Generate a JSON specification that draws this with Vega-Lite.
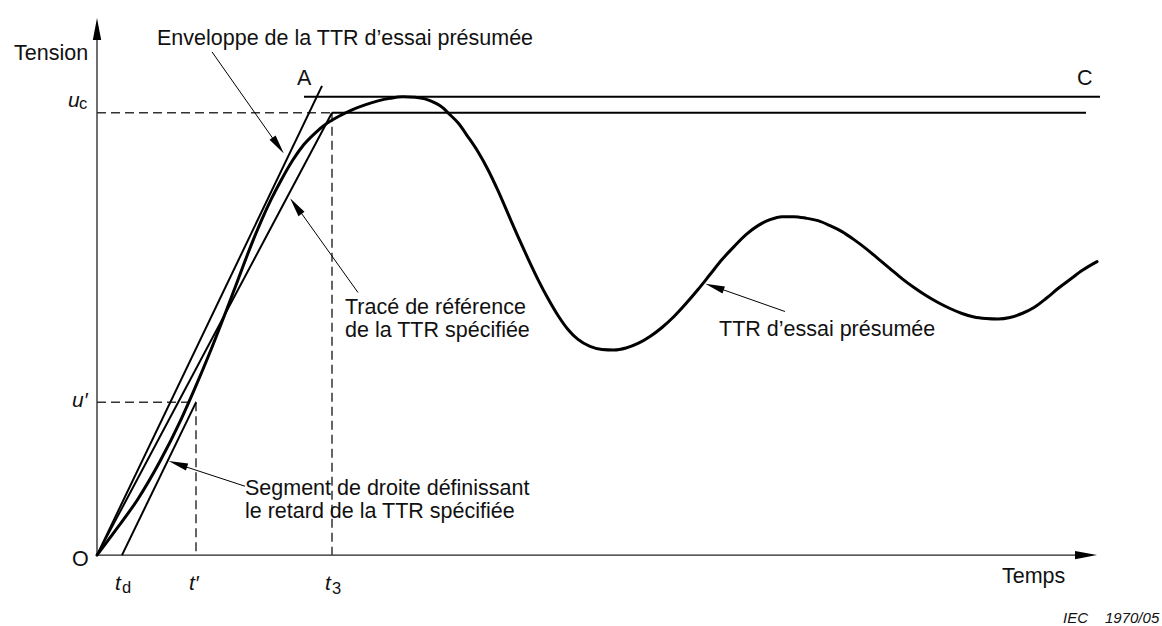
{
  "$schema": "https://vega.github.io/schema/vega-lite/v6.json",
  "width": 1162,
  "height": 626,
  "autosize": {"type": "fit", "contains": "padding"},
  "padding": 0,
  "background": "white",
  "config": {"view": {"stroke": null}, "font": "Liberation Sans"},
  "layer": [
    {
      "data": {"values": [
        {"x": 0, "y": 0, "x2": 0, "y2": 52.6},
        {"x": 0, "y": 0, "x2": 98.8, "y2": 0}
      ]},
      "mark": {"type": "rule", "stroke": "#222", "strokeWidth": 1.3},
      "encoding": {
        "x": {"field": "x", "type": "quantitative", "scale": {"domain": [-9.7, 106.5], "nice": false, "zero": false}, "axis": null},
        "y": {"field": "y", "type": "quantitative", "scale": {"domain": [-7.0, 55.6], "nice": false, "zero": false}, "axis": null},
        "x2": {"field": "x2"},
        "y2": {"field": "y2"}
      }
    },
    {
      "data": {"values": [
        {"x": 0, "y": 44.3, "x2": 23.5, "y2": 44.3},
        {"x": 23.5, "y": 44.3, "x2": 23.5, "y2": 0},
        {"x": 0, "y": 15.3, "x2": 9.9, "y2": 15.3},
        {"x": 9.9, "y": 15.3, "x2": 9.9, "y2": 0}
      ]},
      "mark": {"type": "rule", "stroke": "#333", "strokeWidth": 1.5, "strokeDash": [9, 5]},
      "encoding": {
        "x": {"field": "x", "type": "quantitative", "axis": null},
        "y": {"field": "y", "type": "quantitative", "axis": null},
        "x2": {"field": "x2"},
        "y2": {"field": "y2"}
      }
    },
    {
      "data": {"values": [
        {"name": "enveloppe", "x": 0, "y": 0, "x2": 22.5, "y2": 47.0},
        {"name": "reference", "x": 0, "y": 0, "x2": 23.5, "y2": 44.3},
        {"name": "retard", "x": 2.5, "y": 0, "x2": 9.9, "y2": 15.3},
        {"name": "enveloppe plateau", "x": 20.7, "y": 45.9, "x2": 100.3, "y2": 45.9},
        {"name": "reference plateau", "x": 23.5, "y": 44.3, "x2": 98.9, "y2": 44.3}
      ]},
      "mark": {"type": "rule", "stroke": "#000", "strokeWidth": 2},
      "encoding": {
        "x": {"field": "x", "type": "quantitative", "axis": null},
        "y": {"field": "y", "type": "quantitative", "axis": null},
        "x2": {"field": "x2"},
        "y2": {"field": "y2"}
      }
    },
    {
      "data": {"values": [
        {"x": 11.5, "y": 50.4, "x2": 18.1, "y2": 41.0},
        {"x": 26.1, "y": 26.3, "x2": 19.9, "y2": 35.0},
        {"x": 14.8, "y": 6.9, "x2": 8.1, "y2": 9.1},
        {"x": 68.8, "y": 24.4, "x2": 61.7, "y2": 26.9}
      ]},
      "mark": {"type": "rule", "stroke": "#000", "strokeWidth": 1},
      "encoding": {
        "x": {"field": "x", "type": "quantitative", "axis": null},
        "y": {"field": "y", "type": "quantitative", "axis": null},
        "x2": {"field": "x2"},
        "y2": {"field": "y2"}
      }
    },
    {
      "data": {"values": [
        {"i": 0, "x": 0, "y": 0},
        {"i": 1, "x": 1.94, "y": 2.6},
        {"i": 2, "x": 4.08, "y": 5.6},
        {"i": 3, "x": 6.3, "y": 9.4},
        {"i": 4, "x": 8.41, "y": 13.6},
        {"i": 5, "x": 9.74, "y": 16.6},
        {"i": 6, "x": 11.41, "y": 20.6},
        {"i": 7, "x": 12.78, "y": 24.1},
        {"i": 8, "x": 14.11, "y": 27.6},
        {"i": 9, "x": 15.24, "y": 30.6},
        {"i": 10, "x": 16.48, "y": 33.6},
        {"i": 11, "x": 17.4, "y": 35.6},
        {"i": 12, "x": 18.44, "y": 37.6},
        {"i": 13, "x": 19.6, "y": 39.6},
        {"i": 14, "x": 20.67, "y": 41.1},
        {"i": 15, "x": 21.84, "y": 42.3},
        {"i": 16, "x": 22.8, "y": 43.1},
        {"i": 17, "x": 24.1, "y": 43.9},
        {"i": 18, "x": 25.5, "y": 44.6},
        {"i": 19, "x": 26.8, "y": 45.1},
        {"i": 20, "x": 28.1, "y": 45.5},
        {"i": 21, "x": 29.3, "y": 45.75},
        {"i": 22, "x": 30.6, "y": 45.9},
        {"i": 23, "x": 31.8, "y": 45.85},
        {"i": 24, "x": 32.8, "y": 45.7},
        {"i": 25, "x": 33.8, "y": 45.3},
        {"i": 26, "x": 34.6, "y": 44.8},
        {"i": 27, "x": 35.1, "y": 44.3},
        {"i": 28, "x": 36.1, "y": 43.3},
        {"i": 29, "x": 37.1, "y": 41.9},
        {"i": 30, "x": 38.1, "y": 40.4},
        {"i": 31, "x": 39.1, "y": 38.6},
        {"i": 32, "x": 40.1, "y": 36.5},
        {"i": 33, "x": 41.1, "y": 34.2},
        {"i": 34, "x": 42.1, "y": 31.9},
        {"i": 35, "x": 43.1, "y": 29.7},
        {"i": 36, "x": 44.1, "y": 27.6},
        {"i": 37, "x": 45.1, "y": 25.7},
        {"i": 38, "x": 46.1, "y": 24.0},
        {"i": 39, "x": 47.1, "y": 22.6},
        {"i": 40, "x": 48.1, "y": 21.6},
        {"i": 41, "x": 49.3, "y": 20.9},
        {"i": 42, "x": 50.5, "y": 20.6},
        {"i": 43, "x": 51.7, "y": 20.55},
        {"i": 44, "x": 52.9, "y": 20.75},
        {"i": 45, "x": 54.1, "y": 21.2},
        {"i": 46, "x": 55.3, "y": 21.9},
        {"i": 47, "x": 56.5, "y": 22.8},
        {"i": 48, "x": 57.7, "y": 23.9},
        {"i": 49, "x": 58.9, "y": 25.2},
        {"i": 50, "x": 60.1, "y": 26.6},
        {"i": 51, "x": 61.3, "y": 28.1},
        {"i": 52, "x": 62.5, "y": 29.6},
        {"i": 53, "x": 63.7, "y": 30.9},
        {"i": 54, "x": 64.9, "y": 32.1},
        {"i": 55, "x": 66.1, "y": 33.0},
        {"i": 56, "x": 67.3, "y": 33.6},
        {"i": 57, "x": 68.5, "y": 33.9},
        {"i": 58, "x": 69.7, "y": 33.9},
        {"i": 59, "x": 70.9, "y": 33.75},
        {"i": 60, "x": 72.1, "y": 33.5},
        {"i": 61, "x": 73.3, "y": 33.0},
        {"i": 62, "x": 74.5, "y": 32.4},
        {"i": 63, "x": 75.7, "y": 31.6},
        {"i": 64, "x": 76.9, "y": 30.7},
        {"i": 65, "x": 78.1, "y": 29.7},
        {"i": 66, "x": 79.3, "y": 28.7},
        {"i": 67, "x": 80.5, "y": 27.7},
        {"i": 68, "x": 81.7, "y": 26.8},
        {"i": 69, "x": 82.9, "y": 26.0},
        {"i": 70, "x": 84.1, "y": 25.3},
        {"i": 71, "x": 85.3, "y": 24.7},
        {"i": 72, "x": 86.5, "y": 24.2},
        {"i": 73, "x": 87.7, "y": 23.85},
        {"i": 74, "x": 88.9, "y": 23.7},
        {"i": 75, "x": 90.1, "y": 23.65},
        {"i": 76, "x": 91.3, "y": 23.8},
        {"i": 77, "x": 92.5, "y": 24.2},
        {"i": 78, "x": 93.7, "y": 24.8},
        {"i": 79, "x": 94.9, "y": 25.7},
        {"i": 80, "x": 96.1, "y": 26.7},
        {"i": 81, "x": 97.3, "y": 27.6},
        {"i": 82, "x": 98.5, "y": 28.5},
        {"i": 83, "x": 100.0, "y": 29.4}
      ]},
      "mark": {"type": "line", "stroke": "#000", "strokeWidth": 3, "interpolate": "monotone", "strokeCap": "round"},
      "encoding": {
        "x": {"field": "x", "type": "quantitative", "axis": null},
        "y": {"field": "y", "type": "quantitative", "axis": null},
        "order": {"field": "i", "type": "quantitative"}
      }
    },
    {
      "data": {"values": [
        {"x": 0, "y": 52.7, "angle": 270},
        {"x": 98.9, "y": 0, "angle": 0}
      ]},
      "mark": {"type": "point", "shape": "M 1 0 L -1 -0.38 L -1 0.38 Z", "size": 484, "filled": true, "color": "#000", "opacity": 1, "strokeWidth": 0},
      "encoding": {
        "x": {"field": "x", "type": "quantitative", "axis": null},
        "y": {"field": "y", "type": "quantitative", "axis": null},
        "angle": {"field": "angle", "type": "quantitative", "scale": null}
      }
    },
    {
      "data": {"values": [
        {"x": 18.12, "y": 41.02, "angle": 54.8},
        {"x": 19.88, "y": 34.96, "angle": 234.4},
        {"x": 8.08, "y": 9.12, "angle": 198},
        {"x": 61.75, "y": 26.87, "angle": 199.1}
      ]},
      "mark": {"type": "point", "shape": "M 1 0 L -1 -0.38 L -1 0.38 Z", "size": 380, "filled": true, "color": "#000", "opacity": 1, "strokeWidth": 0},
      "encoding": {
        "x": {"field": "x", "type": "quantitative", "axis": null},
        "y": {"field": "y", "type": "quantitative", "axis": null},
        "angle": {"field": "angle", "type": "quantitative", "scale": null}
      }
    },
    {
      "data": {"values": [
        {"x": -8.3, "y": 49.6, "label": "Tension"},
        {"x": 6.0, "y": 51.1, "label": "Enveloppe de la TTR d’essai présumée"},
        {"x": 20.0, "y": 47.1, "label": "A"},
        {"x": 98.0, "y": 47.1, "label": "C"},
        {"x": -2.5, "y": -1.1, "label": "O"},
        {"x": 24.8, "y": 24.1, "label": "Tracé de référence"},
        {"x": 24.8, "y": 21.8, "label": "de la TTR spécifiée"},
        {"x": 14.8, "y": 6.0, "label": "Segment de droite définissant"},
        {"x": 14.8, "y": 3.7, "label": "le retard de la TTR spécifiée"},
        {"x": 62.2, "y": 21.9, "label": "TTR d’essai présumée"},
        {"x": 90.5, "y": -2.8, "label": "Temps"}
      ]},
      "mark": {"type": "text", "align": "left", "baseline": "alphabetic", "fontSize": 21.5, "color": "#111"},
      "encoding": {
        "x": {"field": "x", "type": "quantitative", "axis": null},
        "y": {"field": "y", "type": "quantitative", "axis": null},
        "text": {"field": "label"}
      }
    },
    {
      "data": {"values": [
        {"x": -2.9, "y": 44.9, "label": "u"},
        {"x": -2.5, "y": 14.8, "label": "u′"},
        {"x": 1.8, "y": -3.5, "label": "t"},
        {"x": 9.2, "y": -3.5, "label": "t′"},
        {"x": 22.8, "y": -3.5, "label": "t"}
      ]},
      "mark": {"type": "text", "align": "left", "baseline": "alphabetic", "fontSize": 21, "fontStyle": "italic", "color": "#111"},
      "encoding": {
        "x": {"field": "x", "type": "quantitative", "axis": null},
        "y": {"field": "y", "type": "quantitative", "axis": null},
        "text": {"field": "label"}
      }
    },
    {
      "data": {"values": [
        {"x": -1.8, "y": 44.7, "label": "c"},
        {"x": 2.5, "y": -3.8, "label": "d"},
        {"x": 23.5, "y": -3.9, "label": "3"}
      ]},
      "mark": {"type": "text", "align": "left", "baseline": "alphabetic", "fontSize": 16.5, "color": "#111"},
      "encoding": {
        "x": {"field": "x", "type": "quantitative", "axis": null},
        "y": {"field": "y", "type": "quantitative", "axis": null},
        "text": {"field": "label"}
      }
    },
    {
      "data": {"values": [
        {"x": 96.6, "y": -6.8, "label": "IEC"},
        {"x": 100.8, "y": -6.8, "label": "1970/05"}
      ]},
      "mark": {"type": "text", "align": "left", "baseline": "alphabetic", "fontSize": 15, "fontStyle": "italic", "color": "#111"},
      "encoding": {
        "x": {"field": "x", "type": "quantitative", "axis": null},
        "y": {"field": "y", "type": "quantitative", "axis": null},
        "text": {"field": "label"}
      }
    }
  ]
}
